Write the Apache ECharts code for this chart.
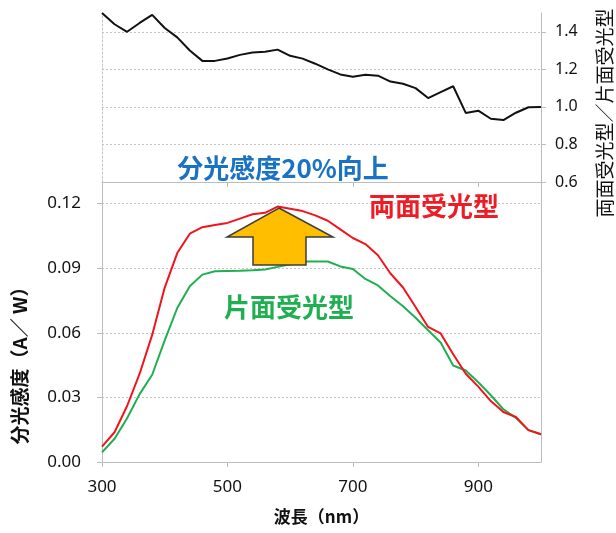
<!DOCTYPE html>
<html>
<head>
<meta charset="utf-8">
<script src="https://cdn.jsdelivr.net/npm/echarts@6/dist/echarts.min.js"></script>
<style>
  html, body { margin: 0; padding: 0; background: #fff; }
  #chart { width: 616px; height: 533px; }
</style>
</head>
<body>
<div id="chart"></div>
<script>
// Wavelength grid (nm)
const wavelengths = [300, 320, 340, 360, 380, 400, 420, 440, 460, 480, 500, 520,
  540, 560, 580, 600, 620, 640, 660, 680, 700, 720, 740, 760,
  780, 800, 820, 840, 860, 880, 900, 920, 940, 960, 980, 1000];

// Spectral sensitivity, bifacial cells (A/W)
const bifacial = [0.0071, 0.0138, 0.026, 0.041, 0.059, 0.081, 0.097, 0.106, 0.109, 0.110, 0.111, 0.113,
  0.115, 0.1157, 0.1186, 0.1176, 0.1165, 0.1145, 0.112, 0.108, 0.104, 0.1012, 0.096, 0.0875,
  0.081, 0.072, 0.0627, 0.0597, 0.050, 0.041, 0.035, 0.0283, 0.0232, 0.0209, 0.0148, 0.0129];

// Spectral sensitivity, monofacial cells (A/W)
const monofacial = [0.0045, 0.0108, 0.0203, 0.0315, 0.0405, 0.0565, 0.0715, 0.0816, 0.087, 0.0886, 0.0887, 0.0888,
  0.089, 0.0894, 0.0906, 0.0918, 0.0931, 0.0931, 0.0931, 0.0908, 0.0896, 0.085, 0.082, 0.077,
  0.0723, 0.067, 0.0612, 0.0555, 0.0448, 0.0425, 0.037, 0.031, 0.0245, 0.0205, 0.0148, 0.0129];

// Bifacial / monofacial ratio
const ratio = [1.50, 1.44, 1.40, 1.447, 1.49, 1.42, 1.37, 1.30, 1.245, 1.245, 1.258, 1.277,
  1.29, 1.294, 1.305, 1.272, 1.257, 1.23, 1.20, 1.173, 1.16, 1.171, 1.166, 1.135,
  1.123, 1.10, 1.047, 1.079, 1.11, 0.968, 0.98, 0.937, 0.93, 0.969, 0.998, 1.00];

// Tick labels
const xTicks = [300, 500, 700, 900];
const sensTicks = [0, 0.03, 0.06, 0.09, 0.12];
const ratioTicks = [0.6, 0.8, 1.0, 1.2, 1.4];

const pairs = (ys) => wavelengths.map((x, i) => [x, ys[i]]);

const AXIS_GRAY = '#bcbcbc';
const GRID_GRAY = '#c4c4c4';
const NUM_FONT = 'Noto Sans';
const JP_FONT = '"Noto Sans CJK JP"';

const chart = echarts.init(document.getElementById('chart'), null, { renderer: 'canvas' });

const option = {
  animation: false,
  backgroundColor: '#ffffff',
  grid: [
    { left: 102, right: 75, top: 13, height: 169 },
    { left: 102, right: 75, top: 182, height: 280 }
  ],
  xAxis: [
    {
      type: 'value', gridIndex: 0, min: 300, max: 1000, interval: 200,
      axisLine: { show: true, onZero: false, lineStyle: { color: AXIS_GRAY, width: 1 } },
      axisTick: { show: true, length: 5, customValues: xTicks, lineStyle: { color: AXIS_GRAY } },
      axisLabel: { show: false },
      splitLine: { show: false }
    },
    {
      type: 'value', gridIndex: 1, min: 300, max: 1000, interval: 200,
      axisLine: { show: true, onZero: false, lineStyle: { color: AXIS_GRAY, width: 1 } },
      axisTick: { show: true, length: 5, customValues: xTicks, lineStyle: { color: AXIS_GRAY } },
      axisLabel: {
        customValues: xTicks, margin: 17,
        color: '#111', fontSize: 17, fontFamily: NUM_FONT
      },
      splitLine: { show: false },
      name: '波長（nm）', nameLocation: 'middle', nameGap: 46,
      nameTextStyle: { color: '#111', fontSize: 17, fontWeight: 'bold', fontFamily: JP_FONT }
    }
  ],
  yAxis: [
    // top panel: ratio scale on the right
    {
      type: 'value', gridIndex: 0, position: 'right', min: 0.6, max: 1.5, interval: 0.2,
      axisLine: { show: true, lineStyle: { color: AXIS_GRAY } },
      axisTick: { show: true, length: 5, customValues: ratioTicks, lineStyle: { color: AXIS_GRAY } },
      axisLabel: {
        customValues: ratioTicks, margin: 14,
        color: '#111', fontSize: 16, fontFamily: NUM_FONT,
        formatter: (v) => v.toFixed(1)
      },
      splitLine: { show: true, lineStyle: { color: GRID_GRAY, type: [2, 2] } }
    },
    // top panel: dotted left border
    {
      type: 'value', gridIndex: 0, position: 'left', min: 0.6, max: 1.5,
      axisLine: { show: true, lineStyle: { color: GRID_GRAY, type: [2, 2] } },
      axisTick: { show: false }, axisLabel: { show: false }, splitLine: { show: false }
    },
    // bottom panel: sensitivity on the left
    {
      type: 'value', gridIndex: 1, position: 'left', min: 0, max: 0.13, interval: 0.03,
      axisLine: { show: true, lineStyle: { color: AXIS_GRAY } },
      axisTick: { show: true, length: 5, customValues: sensTicks, lineStyle: { color: AXIS_GRAY } },
      axisLabel: {
        customValues: sensTicks, margin: 21,
        color: '#111', fontSize: 17, fontFamily: NUM_FONT,
        formatter: (v) => v.toFixed(2)
      },
      splitLine: { show: true, lineStyle: { color: GRID_GRAY, type: [2, 2] } }
    },
    // bottom panel: solid right border
    {
      type: 'value', gridIndex: 1, position: 'right', min: 0, max: 0.13,
      axisLine: { show: true, lineStyle: { color: AXIS_GRAY } },
      axisTick: { show: false }, axisLabel: { show: false }, splitLine: { show: false }
    }
  ],
  series: [
    {
      name: '両面受光型／片面受光型', type: 'line', xAxisIndex: 0, yAxisIndex: 0,
      data: pairs(ratio), showSymbol: false, clip: true,
      lineStyle: { color: '#111111', width: 2 }, z: 3
    },
    {
      name: '片面受光型', type: 'line', xAxisIndex: 1, yAxisIndex: 2,
      data: pairs(monofacial), showSymbol: false,
      lineStyle: { color: '#1faf50', width: 2 }, z: 3
    },
    {
      name: '両面受光型', type: 'line', xAxisIndex: 1, yAxisIndex: 2,
      data: pairs(bifacial), showSymbol: false,
      lineStyle: { color: '#f2141c', width: 2 }, z: 4
    }
  ],
  graphic: [
    // left axis title
    {
      type: 'text', x: 20, y: 361, rotation: Math.PI / 2,
      style: {
        text: '分光感度（A／ W）', fill: '#111', font: 'bold 19px ' + JP_FONT,
        align: 'center', verticalAlign: 'middle'
      }
    },
    // right axis title
    {
      type: 'text', x: 605, y: 113, rotation: Math.PI / 2,
      style: {
        text: '両面受光型／片面受光型', fill: '#111', font: '19px ' + JP_FONT,
        align: 'center', verticalAlign: 'middle'
      }
    },
    // improvement note
    {
      type: 'text', x: 283, y: 168, z: 10,
      style: {
        text: '分光感度20%向上', fill: '#1a72c2', font: 'bold 26px ' + JP_FONT,
        align: 'center', verticalAlign: 'middle'
      }
    },
    // series callouts
    {
      type: 'text', x: 434, y: 206, z: 10,
      style: {
        text: '両面受光型', fill: '#ee1c24', font: 'bold 26px ' + JP_FONT,
        align: 'center', verticalAlign: 'middle'
      }
    },
    {
      type: 'text', x: 289, y: 307, z: 10,
      style: {
        text: '片面受光型', fill: '#1fae50', font: 'bold 26px ' + JP_FONT,
        align: 'center', verticalAlign: 'middle'
      }
    },
    // upward arrow between the two curves
    {
      type: 'polygon', z: 10,
      shape: {
        points: [[279, 208], [333, 237], [306, 237], [306, 265], [253, 265], [253, 237], [227, 237]]
      },
      style: { fill: '#ffbf00', stroke: '#3d3d3d', lineWidth: 1.5 }
    }
  ]
};

chart.setOption(option);
</script>
</body>
</html>
